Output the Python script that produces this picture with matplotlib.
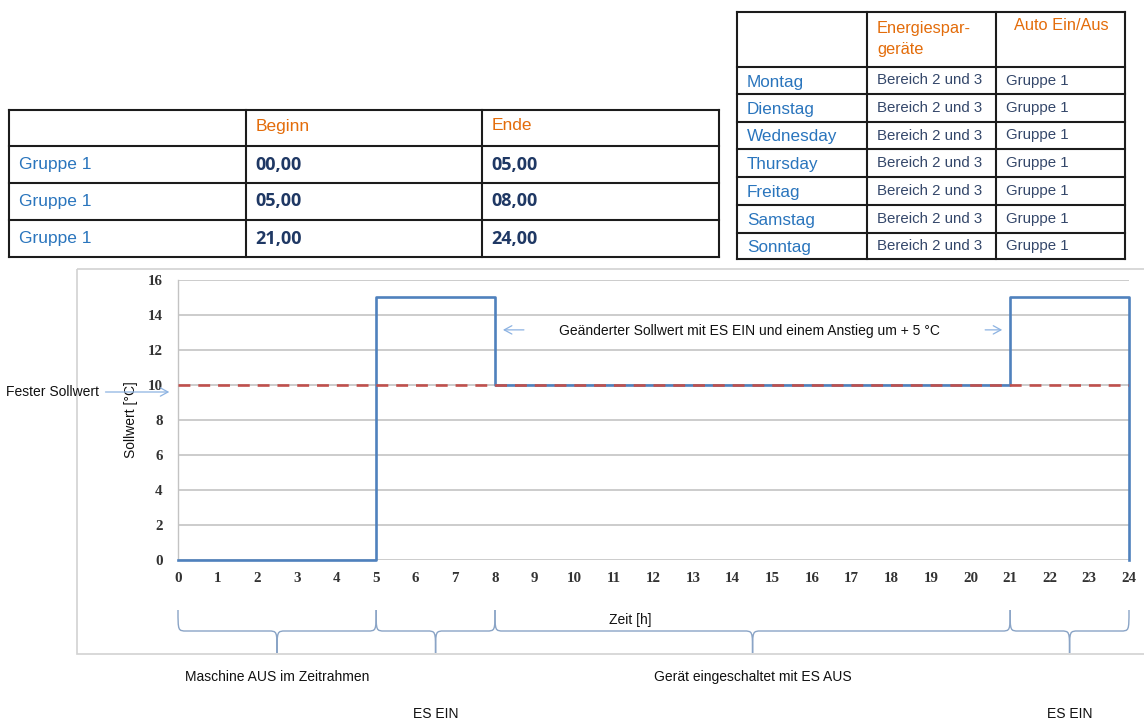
import matplotlib
matplotlib.use('Agg')
import matplotlib.pyplot as plt
from matplotlib.path import Path
from matplotlib.patches import PathPatch, Rectangle
from matplotlib.transforms import blended_transform_factory

# ── Schedule tables ──────────────────────────────────────────────────────────
SLOT_HEAD   = ['', 'Beginn', 'Ende']
SLOT_GROUPS = ['Gruppe 1', 'Gruppe 1', 'Gruppe 1']
SLOT_BEGIN  = ['00,00', '05,00', '21,00']
SLOT_END    = ['05,00', '08,00', '24,00']

DAY_HEAD    = ['', 'Energiespar-\ngeräte', 'Auto Ein/Aus']
DAYS        = ['Montag', 'Dienstag', 'Wednesday', 'Thursday', 'Freitag', 'Samstag', 'Sonntag']
DAY_DEVICES = ['Bereich 2 und 3'] * 7
DAY_AUTO    = ['Gruppe 1'] * 7

# ── Setpoint over the day ────────────────────────────────────────────────────
HOURS    = [0, 5, 5, 8, 8, 21, 21, 24, 24]
SOLLWERT = [0, 0, 15, 15, 10, 10, 15, 15, 0]
FESTER_SOLLWERT = 10
X_TICKS = list(range(0, 25))
Y_TICKS = list(range(0, 17, 2))

# time segments marked with braces under the axis
SEG_START = [0, 5, 8, 21]
SEG_END   = [5, 8, 21, 24]
SEG_TEXT  = ['Maschine AUS im Zeitrahmen', 'ES EIN', 'Gerät eingeschaltet mit ES AUS', 'ES EIN']
SEG_ROW   = [0, 1, 0, 1]

ORANGE   = '#e36c0a'
BLUE_TXT = '#2a75bd'
NAVY     = '#1f3864'
SLATE    = '#34476a'
LINE     = '#4f81bd'
RED      = '#c0504d'
ARROW    = '#8db3e2'
GRID     = '#c3c3c3'
SANS     = 'Liberation Sans'

fig = plt.figure(figsize=(11.44, 7.2), dpi=100)
fig.patch.set_facecolor('white')

# pixel overlay for tables, frame and notes
over = fig.add_axes([0, 0, 1, 1], zorder=0)
over.set_xlim(0, 1144)
over.set_ylim(720, 0)
over.axis('off')


def draw_grid(xs, ys):
    for y in ys:
        over.plot([xs[0], xs[-1]], [y, y], color='#1c1c1c', lw=1.5, solid_capstyle='projecting')
    for x in xs:
        over.plot([x, x], [ys[0], ys[-1]], color='#1c1c1c', lw=1.5, solid_capstyle='projecting')


# left table: time slots
lx = [9, 246, 482, 719]
ly = [110, 146, 183, 220, 257]
draw_grid(lx, ly)
for j, h in enumerate(SLOT_HEAD):
    over.text(lx[j] + 10, 126, h, color=ORANGE, fontsize=12.5, family=SANS, va='center')
for i in range(len(SLOT_GROUPS)):
    yc = (ly[i + 1] + ly[i + 2]) / 2
    over.text(lx[0] + 10, yc, SLOT_GROUPS[i], color=BLUE_TXT, fontsize=12.5, family=SANS, va='center')
    over.text(lx[1] + 9, yc, SLOT_BEGIN[i], color=NAVY, fontsize=13, family='Open Sans',
              fontweight='bold', va='center')
    over.text(lx[2] + 9, yc, SLOT_END[i], color=NAVY, fontsize=13, family='Open Sans',
              fontweight='bold', va='center')

# right table: weekdays
rx = [737, 867, 996, 1125]
ry = [12, 67, 94, 122, 149, 177, 205, 233, 259]
draw_grid(rx, ry)
over.text(rx[1] + 10, 39, DAY_HEAD[1], color=ORANGE, fontsize=11.8, family=SANS,
          va='center', linespacing=1.5)
over.text(rx[2] + 18, 26, DAY_HEAD[2], color=ORANGE, fontsize=11.8, family=SANS, va='center')
for i in range(len(DAYS)):
    yc = (ry[i + 1] + ry[i + 2]) / 2
    over.text(rx[0] + 10, yc + 1.5, DAYS[i], color=BLUE_TXT, fontsize=12.3, family=SANS, va='center')
    over.text(rx[1] + 10, yc, DAY_DEVICES[i], color=SLATE, fontsize=10.8, family=SANS, va='center')
    over.text(rx[2] + 10, yc, DAY_AUTO[i], color=SLATE, fontsize=10.8, family=SANS, va='center')

# chart frame
over.add_patch(Rectangle((77, 269), 1100, 385, fill=False, edgecolor='#d2d2d2', lw=1.2))

# ── Setpoint chart ───────────────────────────────────────────────────────────
ax = fig.add_axes([178 / 1144, 160 / 720, 951 / 1144, 280 / 720], zorder=1)
ax.patch.set_alpha(0)
ax.set_xlim(0, 24)
ax.set_ylim(0, 16)
ax.set_xticks(X_TICKS)
ax.set_yticks(Y_TICKS)
ax.grid(axis='y', color=GRID, lw=1.2)
ax.set_axisbelow(True)
for s in ['top', 'right', 'bottom']:
    ax.spines[s].set_visible(False)
ax.spines['left'].set_color(GRID)
ax.spines['left'].set_linewidth(1.0)
ax.tick_params(length=0, labelsize=10.8, labelcolor='#333333')
ax.tick_params(axis='x', pad=9)
ax.tick_params(axis='y', pad=11)
for lab in ax.get_xticklabels() + ax.get_yticklabels():
    lab.set_family('Liberation Serif')
    lab.set_fontweight('bold')

ax.plot(HOURS, SOLLWERT, color=LINE, lw=1.9, clip_on=False, zorder=3)
ax.axhline(FESTER_SOLLWERT, color=RED, lw=1.9, dashes=(4.5, 3), zorder=4)

ax.set_ylabel('Sollwert [°C]', family=SANS, fontsize=10, color='#111111')
ax.yaxis.set_label_coords(-0.042, 0.5)
ax.set_xlabel('Zeit [h]', family=SANS, fontsize=10, color='#111111')
ax.xaxis.set_label_coords(0.476, -0.19)

arrow = dict(arrowstyle='->, head_length=0.55, head_width=0.3', color=ARROW, lw=0.9)
ax.annotate('', xy=(-0.15, 9.6), xytext=(-1.9, 9.6), arrowprops=arrow, annotation_clip=False)
ax.text(-2.0, 9.6, 'Fester Sollwert', ha='right', va='center', family=SANS, fontsize=10,
        color='#111111', clip_on=False)
ax.annotate('', xy=(8.13, 13.15), xytext=(8.8, 13.15), arrowprops=arrow)
ax.annotate('', xy=(20.87, 13.15), xytext=(20.3, 13.15), arrowprops=arrow)
ax.text(14.43, 13.1, 'Geänderter Sollwert mit ES EIN und einem Anstieg um + 5 °C',
        ha='center', va='center', family=SANS, fontsize=10, color='#111111')

# braces under the time axis (x in hours, y in pixels)
blend = blended_transform_factory(ax.transData, over.transData)
y_top, y_mid, y_tip = 610, 631, 653
r = 0.22
for a, b, txt, row in zip(SEG_START, SEG_END, SEG_TEXT, SEG_ROW):
    c = (a + b) / 2
    verts = [(a, y_top), (a, y_mid), (a, y_mid), (a + r, y_mid),
             (c - r, y_mid), (c, y_mid), (c, y_mid), (c, y_tip),
             (c, y_mid), (c, y_mid), (c + r, y_mid),
             (b - r, y_mid), (b, y_mid), (b, y_mid), (b, y_top)]
    codes = [Path.MOVETO, Path.CURVE4, Path.CURVE4, Path.CURVE4,
             Path.LINETO, Path.CURVE4, Path.CURVE4, Path.CURVE4,
             Path.CURVE4, Path.CURVE4, Path.CURVE4,
             Path.LINETO, Path.CURVE4, Path.CURVE4, Path.CURVE4]
    over.add_patch(PathPatch(Path(verts, codes), transform=blend, fill=False,
                             edgecolor='#8aa4c6', lw=1.0))
    over.text(c, 677 if row == 0 else 714, txt, transform=blend, ha='center', va='center',
              family=SANS, fontsize=10, color='#111111')

fig.savefig('out.png', dpi=100, facecolor='white')
